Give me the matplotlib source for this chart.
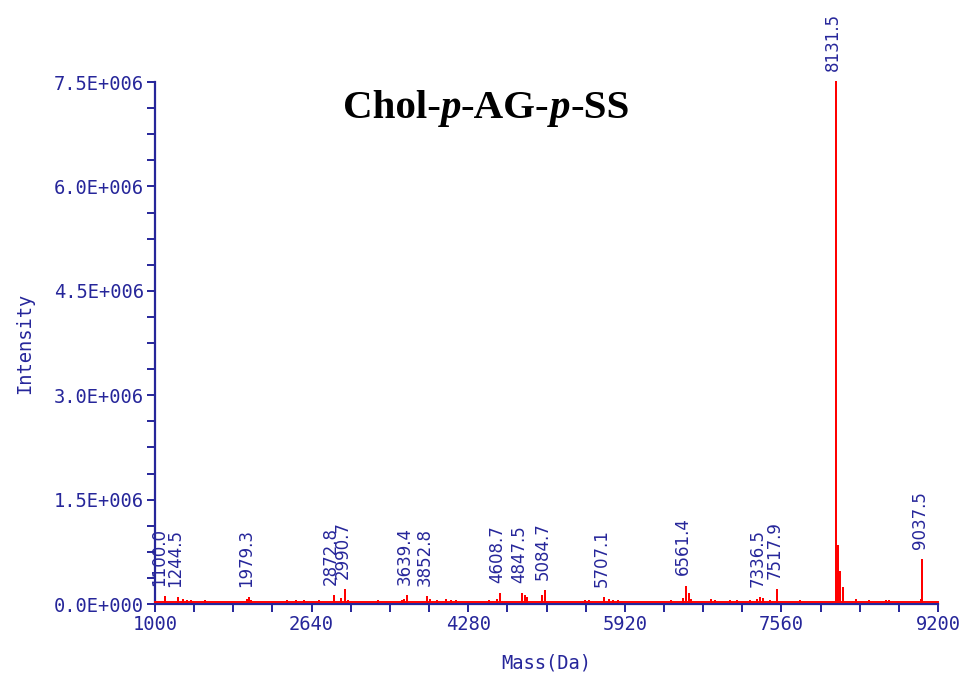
"""MALDI-TOF mass spectrum of Chol-p-AG-p-SS."""
import numpy as np
import matplotlib
matplotlib.use("Agg")
import matplotlib.pyplot as plt
from matplotlib.ticker import MultipleLocator, FuncFormatter

NAVY = '#26269a'
RED = '#ff0000'

# labelled peaks (m/z, intensity)
label_mass = [1100.0, 1244.5, 1979.3, 2872.8, 2990.7, 3639.4, 3852.8, 4608.7,
              4847.5, 5084.7, 5707.1, 6561.4, 7336.5, 7517.9, 8131.5, 9037.5]
label_int = [1.0e5, 9.0e4, 9.0e4, 1.1e5, 2.0e5, 1.1e5, 1.0e5, 1.4e5,
             1.4e5, 1.8e5, 9.0e4, 2.5e5, 9.0e4, 2.0e5, 7.5e6, 6.3e5]

# smaller unlabelled peaks
minor_mass = [1290, 1330, 1380, 1440, 1520, 1960, 2010, 2380, 2480, 2560,
              2720, 2950, 3020, 3340, 3590, 3610, 3720, 3880, 3950, 4050,
              4100, 4150, 4240, 4500, 4580, 4870, 4900, 5050, 5250, 5500,
              5540, 5750, 5800, 5850, 6400, 6530, 6590, 6610, 6820, 6860,
              7020, 7100, 7230, 7300, 7370, 7440, 7760, 8150, 8170, 8205,
              8340, 8480, 8660, 8690, 9020]
minor_int = [6e4, 4e4, 5e4, 3e4, 5e4, 6e4, 4e4, 4e4, 5e4, 5e4,
             5e4, 7e4, 4e4, 5e4, 5e4, 6e4, 3e4, 6e4, 5e4, 6e4,
             5e4, 4e4, 3e4, 4e4, 6e4, 1.1e5, 9e4, 1.1e5, 3e4, 4e4,
             4e4, 6e4, 4e4, 5e4, 5e4, 7e4, 1.4e5, 6e4, 6e4, 4e4,
             4e4, 4e4, 4e4, 6e4, 7e4, 4e4, 5e4, 8.3e5, 4.6e5, 2.3e5,
             6e4, 4e4, 4e4, 5e4, 6e4]

BASELINE = 2.5e4
X_MIN, X_MAX = 1000, 9200
Y_MAX = 7.5e6

# sideways nudge (points) for crowded peak labels
label_nudge = {1100.0: -4.0}


def stick_trace(masses, heights, base):
    order = np.argsort(masses)
    xs, ys = [X_MIN], [base]
    for i in order:
        m, h = masses[i], heights[i]
        xs += [m, m, m]
        ys += [base, h, base]
    xs.append(X_MAX)
    ys.append(base)
    return xs, ys


def sci_fmt(v, pos):
    if v == 0:
        return '0.0E+000'
    e = int(np.floor(np.log10(abs(v))))
    return f'{v / 10**e:.1f}E+{e:03d}'


fig = plt.figure(figsize=(9.66, 6.73), dpi=100)
ax = fig.add_axes([155/966, 1-604/673, (938-155)/966, (604-82)/673])

all_mass = label_mass + minor_mass
all_int = label_int + minor_int
xs, ys = stick_trace(all_mass, all_int, BASELINE)
ax.plot(xs, ys, color=RED, lw=1.4, zorder=2, clip_on=False)

for m, h in zip(label_mass, label_int):
    dx = label_nudge.get(m, -2)
    ax.annotate(f'{m:.1f}', xy=(m, h), xytext=(dx, 8), textcoords='offset points',
                rotation=90, ha='center', va='bottom', color=NAVY,
                fontsize=12, family='DejaVu Sans', annotation_clip=False)

ax.set_xlim(X_MIN, X_MAX)
ax.set_ylim(0, Y_MAX)

for side in ('top', 'right'):
    ax.spines[side].set_visible(False)
for side in ('left', 'bottom'):
    ax.spines[side].set_color(NAVY)
    ax.spines[side].set_linewidth(1.6)
    ax.spines[side].set_zorder(1)

ax.xaxis.set_major_locator(MultipleLocator(1640, offset=1000))
ax.xaxis.set_minor_locator(MultipleLocator(410, offset=1000))
ax.yaxis.set_major_locator(MultipleLocator(1.5e6))
ax.yaxis.set_minor_locator(MultipleLocator(3.75e5))
ax.yaxis.set_major_formatter(FuncFormatter(sci_fmt))
ax.tick_params(which='both', direction='out', length=6, width=1.4, color=NAVY,
               labelcolor=NAVY, labelsize=13.5, pad=2)
for lab in ax.get_xticklabels() + ax.get_yticklabels():
    lab.set_family('DejaVu Sans Mono')

ax.set_xlabel('Mass(Da)', color=NAVY, fontsize=13.5, family='DejaVu Sans Mono', labelpad=14)
ax.set_ylabel('Intensity', color=NAVY, fontsize=13.5, family='DejaVu Sans Mono', labelpad=14)

# title made of upright and italic pieces chained together
parts = [('Chol-', 'normal'), ('p', 'italic'), ('-AG-', 'normal'),
         ('p', 'italic'), ('-SS', 'normal')]
title_kw = dict(family='Liberation Serif', weight='bold', fontsize=29.5, color='black')
pieces = []
for i, (txt, style) in enumerate(parts):
    if i == 0:
        t = fig.text(0.5, 0, txt, style=style, va='baseline', ha='left', **title_kw)
    else:
        t = ax.annotate(txt, xy=(1, 0), xycoords=pieces[-1], va='bottom', ha='left',
                        style=style, annotation_clip=False, **title_kw)
    pieces.append(t)

fig.canvas.draw()
r = fig.canvas.get_renderer()
x0 = pieces[0].get_window_extent(r).x0
x1 = pieces[-1].get_window_extent(r).x1
w = (x1 - x0) / fig.bbox.width
pieces[0].set_position((486/966 - w / 2, 1 - 118/673))

fig.savefig('out.png', dpi=100, facecolor='white')
